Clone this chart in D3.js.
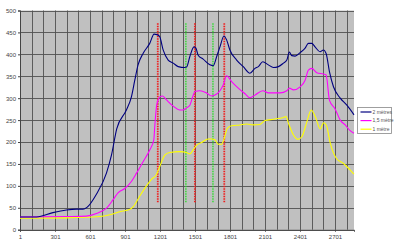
<!DOCTYPE html>
<html lang='en'>
<head>
<meta charset='utf-8'>
<script src='https://cdn.jsdelivr.net/npm/d3@7'></script>
<style>
  body { margin: 0; background: #fff; }
  text { font-family: 'Liberation Sans', Arial, sans-serif; }
</style>
</head>
<body>
<script>
// series: [x, value]
var serie2m = [[1,29],[143,29],[283,39],[398,45],[484,47],[541,47],[575,51],[656,81],[742,129],[785,170],[830,230],[913,273],[956,303],[985,341],[1013,376],[1056,402],[1113,425],[1150,446],[1176,445],[1199,440],[1228,410],[1271,387],[1314,380],[1357,372],[1414,370],[1429,371],[1457,395],[1492,417],[1509,414],[1528,398],[1571,389],[1629,376],[1657,374],[1687,395],[1715,417],[1749,442],[1772,433],[1800,410],[1858,387],[1915,372],[1972,357],[2015,368],[2044,372],[2082,383],[2130,376],[2173,370],[2216,372],[2259,380],[2288,387],[2310,405],[2331,397],[2359,396],[2402,404],[2445,414],[2473,425],[2502,425],[2530,417],[2573,406],[2602,410],[2625,402],[2654,360],[2688,326],[2746,300],[2803,284],[2864,262]];
var serie15m = [[1,29],[398,30],[570,31],[656,37],[742,49],[798,68],[841,84],[899,94],[956,110],[1000,129],[1056,155],[1113,182],[1148,205],[1156,235],[1171,281],[1185,296],[1199,303],[1223,305],[1257,296],[1314,282],[1371,273],[1397,273],[1429,278],[1457,284],[1480,302],[1500,315],[1543,317],[1600,312],[1644,305],[1672,307],[1715,317],[1743,330],[1772,351],[1815,338],[1872,323],[1930,310],[1972,301],[2015,307],[2082,317],[2130,312],[2231,312],[2288,317],[2310,323],[2345,319],[2402,326],[2445,341],[2473,364],[2502,368],[2545,358],[2602,355],[2625,353],[2654,295],[2703,275],[2746,250],[2789,239],[2826,227],[2864,220]];
var serie1m = [[1,26],[400,27],[684,30],[770,34],[856,41],[940,46],[970,52],[1028,77],[1085,100],[1128,115],[1171,126],[1199,144],[1242,170],[1285,176],[1371,178],[1429,176],[1457,173],[1486,182],[1515,193],[1558,199],[1614,207],[1644,207],[1672,205],[1700,195],[1729,195],[1749,206],[1778,231],[1815,237],[1887,239],[1944,241],[2001,239],[2058,240],[2101,249],[2173,252],[2259,256],[2282,258],[2302,243],[2345,216],[2383,206],[2417,212],[2460,246],[2497,273],[2532,258],[2575,230],[2603,244],[2626,239],[2661,197],[2712,163],[2774,151],[2832,136],[2864,127]];

var seriesNames = ['2 mètres', '1,5 mètre', '1 mètre'];
var seriesColors = ['#000080', '#ff00ff', '#ffff00'];
var xTickLabels = [1, 301, 601, 901, 1201, 1501, 1801, 2101, 2401, 2701];
var yTickLabels = [0, 50, 100, 150, 200, 250, 300, 350, 400, 450, 500];
var redMarkers = [1182, 1500, 1752];
var greenMarkers = [1423, 1655];
var markerRange = [62, 471];

var width = 400, height = 249;
var svg = d3.select('body').append('svg').attr('width', width).attr('height', height);

var x = d3.scaleLinear().domain([1, 2864]).range([20, 354]);
var y = d3.scaleLinear().domain([0, 500]).range([229.7, 10.5]);

// plot area
svg.append('rect').attr('x', 20).attr('y', y(500)).attr('width', 334).attr('height', y(0) - y(500))
	.attr('fill', '#c0c0c0');

// grid
var vgrid = d3.range(1, 2864, 100);
svg.append('g').selectAll('line').data(vgrid).enter().append('line')
	.attr('x1', d => Math.round(x(d)) + 0.5).attr('x2', d => Math.round(x(d)) + 0.5)
	.attr('y1', y(500)).attr('y2', y(0))
	.attr('stroke', '#505050').attr('stroke-width', 0.9);
svg.append('g').selectAll('line').data(yTickLabels).enter().append('line')
	.attr('x1', 20).attr('x2', 354)
	.attr('y1', d => Math.round(y(d)) + 0.5).attr('y2', d => Math.round(y(d)) + 0.5)
	.attr('stroke', '#505050').attr('stroke-width', 0.9);

// axes
var yAxis = d3.axisLeft(y).tickValues(yTickLabels).tickSize(2).tickPadding(2);
var gy = svg.append('g').attr('transform', 'translate(20,0)').call(yAxis);
var xAxis = d3.axisBottom(x).tickValues(xTickLabels).tickFormat(d3.format('d')).tickSize(2).tickPadding(3);
var gx = svg.append('g').attr('transform', 'translate(0,' + y(0) + ')').call(xAxis);
[gx, gy].forEach(function(g) {
	g.select('.domain').attr('stroke', '#444');
	g.selectAll('.tick line').attr('stroke', '#444');
	g.selectAll('text').attr('font-size', 6).attr('fill', '#444').attr('font-family', "'Liberation Sans', Arial, sans-serif");
});

// marker lines
svg.append('g').selectAll('line').data(redMarkers).enter().append('line')
	.attr('x1', d => x(d)).attr('x2', d => x(d))
	.attr('y1', y(markerRange[1])).attr('y2', y(markerRange[0]))
	.attr('stroke', '#ee2020').attr('stroke-width', 1.8).attr('stroke-dasharray', '1.5,1');
svg.append('g').selectAll('line').data(greenMarkers).enter().append('line')
	.attr('x1', d => x(d)).attr('x2', d => x(d))
	.attr('y1', y(markerRange[1])).attr('y2', y(markerRange[0]))
	.attr('stroke', '#20e020').attr('stroke-width', 1.3).attr('stroke-dasharray', '1.5,1');

// series
var line = d3.line().x(d => x(d[0])).y(d => y(d[1])).curve(d3.curveMonotoneX);
[serie1m, serie15m, serie2m].forEach(function(s, i) {
	svg.append('path').datum(s).attr('d', line).attr('fill', 'none')
		.attr('stroke', seriesColors[2 - i]).attr('stroke-width', 1.1);
});

// legend
var lg = svg.append('g');
lg.append('rect').attr('x', 357.5).attr('y', 107.5).attr('width', 34).attr('height', 26)
	.attr('fill', '#fff').attr('stroke', '#888').attr('stroke-width', 0.8);
seriesNames.forEach(function(n, i) {
	var yy = 112 + i * 8.6;
	lg.append('line').attr('x1', 360.5).attr('x2', 371.5).attr('y1', yy).attr('y2', yy)
		.attr('stroke', seriesColors[i]).attr('stroke-width', 1.2);
	lg.append('text').attr('x', 372.5).attr('y', yy + 1.8).attr('font-size', 5).attr('fill', '#555').text(n);
});
</script>
</body>
</html>
